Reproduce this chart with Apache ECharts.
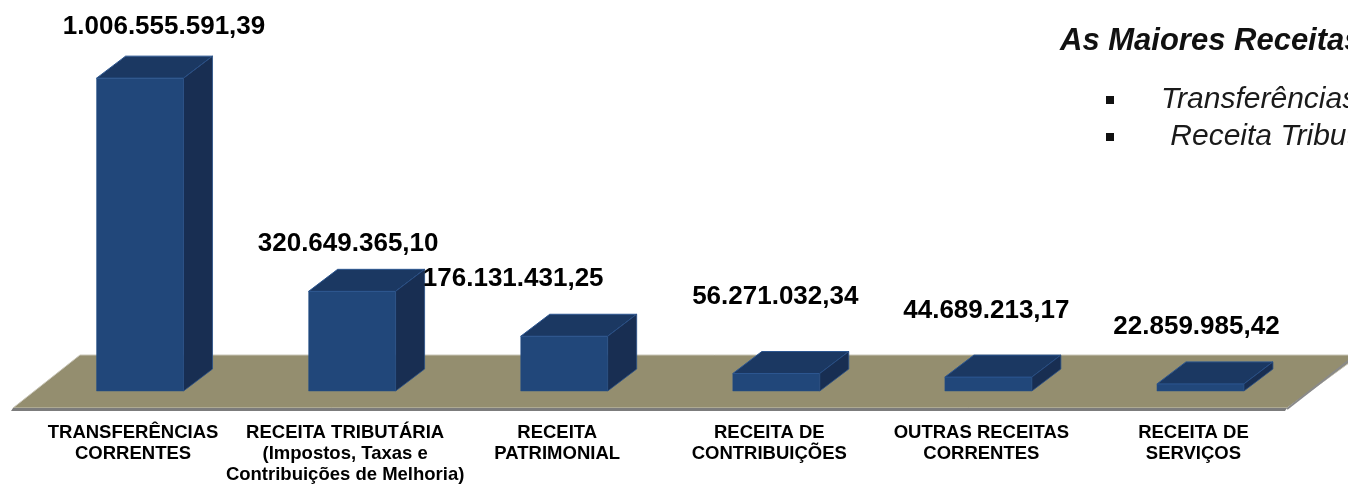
<!DOCTYPE html>
<html><head><meta charset="utf-8">
<script src="https://cdn.jsdelivr.net/npm/echarts@6/dist/echarts.min.js"></script>
<style>html,body{margin:0;padding:0;background:#fff}#c{width:1348px;height:485px}</style>
</head><body><div id="c"></div>
<script>
// ---- data ----
const categories = [
  'TRANSFERÊNCIAS\nCORRENTES',
  'RECEITA TRIBUTÁRIA\n(Impostos, Taxas e\nContribuições de Melhoria)',
  'RECEITA\nPATRIMONIAL',
  'RECEITA DE\nCONTRIBUIÇÕES',
  'OUTRAS RECEITAS\nCORRENTES',
  'RECEITA DE\nSERVIÇOS'
];
const values = [1006555591.39, 320649365.10, 176131431.25, 56271032.34, 44689213.17, 22859985.42];
const titleText = 'As Maiores Receitas';
const bulletItems = ['Transferências Correntes', ' Receita Tributária'];

// ---- layout-only tweaks for value labels (hand-placed in original) ----
const labelShiftX = [24, -4, -51, -1, -2, -4];
const labelGap = [21, 18, 27, 47, 36, 27];

const FONT = '"Liberation Sans", Arial, sans-serif';
const DX = 29, DY = -22;

function fmt(v) {
  const s = v.toFixed(2);
  const [ip, dp] = s.split('.');
  return ip.replace(/\B(?=(\d{3})+(?!\d))/g, '.') + ',' + dp;
}

function renderItem(params, api) {
  const i = api.value(0), v = api.value(1);
  const top = api.coord([i, v]);
  const base = api.coord([i, 0]);
  const band = api.size([1, 0])[0];
  const w = band * 0.41;
  const x0 = top[0] - w / 2, x1 = top[0] + w / 2, yT = top[1], yB = base[1];
  return {
    type: 'group',
    children: [
      { type: 'rect', shape: { x: x0, y: yT, width: w, height: yB - yT },
        style: { fill: '#21477A', stroke: '#25508a', lineWidth: 0.5 } },
      { type: 'polygon', shape: { points: [[x0, yT], [x0 + DX, yT + DY], [x1 + DX, yT + DY], [x1, yT]] },
        style: { fill: '#1B3862', stroke: '#2c5690', lineWidth: 1 } },
      { type: 'polygon', shape: { points: [[x1, yT], [x1 + DX, yT + DY], [x1 + DX, yB + DY], [x1, yB]] },
        style: { fill: '#182E52', stroke: '#2a5088', lineWidth: 0.8 } },
      { type: 'text', x: top[0] + labelShiftX[i], y: yT + DY - labelGap[i] + 5,
        style: { text: fmt(v), font: 'bold 26px ' + FONT, fill: '#000', align: 'center', verticalAlign: 'bottom' } }
    ]
  };
}

const chart = echarts.init(document.getElementById('c'), null, { renderer: 'canvas' });
chart.setOption({
  animation: false,
  backgroundColor: '#ffffff',
  grid: { left: 34, right: 41.5, top: 18, bottom: 94 },
  xAxis: {
    type: 'category', data: categories,
    axisLine: { show: false }, axisTick: { show: false }, splitLine: { show: false },
    axisLabel: { interval: 0, fontSize: 18.5, fontWeight: 'bold', fontFamily: FONT, color: '#000',
      lineHeight: 21, margin: 31, padding: [0, 14, 0, 0] }
  },
  yAxis: { type: 'value', min: 0, max: 1200000000, show: false },
  graphic: [
    // floor
    { type: 'polygon', z: 0, shape: { points: [[80, 355], [1360, 355], [1287, 408], [13, 408]] },
      style: { fill: '#948E6F', stroke: '#c9c6b8', lineWidth: 1 } },
    { type: 'polygon', z: 0, shape: { points: [[13, 408], [1287, 408], [1285, 411], [11, 411]] },
      style: { fill: '#7c7c7c' } },
    { type: 'polyline', z: 0, shape: { points: [[1287, 409], [1356, 355]] },
      style: { stroke: '#8a8a8a', lineWidth: 2 } },
    // title
    { type: 'text', z: 5, x: 1060, y: 41,
      style: { text: titleText, font: 'italic bold 31px ' + FONT, fill: '#111', verticalAlign: 'middle' } },
    // bullets
    { type: 'rect', z: 5, shape: { x: 1106, y: 96, width: 8, height: 8 }, style: { fill: '#111' } },
    { type: 'rect', z: 5, shape: { x: 1106, y: 133, width: 8, height: 8 }, style: { fill: '#111' } },
    { type: 'text', z: 5, x: 1161, y: 100,
      style: { text: bulletItems[0], font: 'italic 30px ' + FONT, fill: '#1a1a1a', verticalAlign: 'middle' } },
    { type: 'text', z: 5, x: 1162, y: 137,
      style: { text: bulletItems[1], font: 'italic 30px ' + FONT, fill: '#1a1a1a', verticalAlign: 'middle' } }
  ],
  series: [{
    type: 'custom', z: 10,
    renderItem: renderItem,
    encode: { x: 0, y: 1 },
    data: values.map((v, i) => [i, v])
  }]
});
</script></body></html>
